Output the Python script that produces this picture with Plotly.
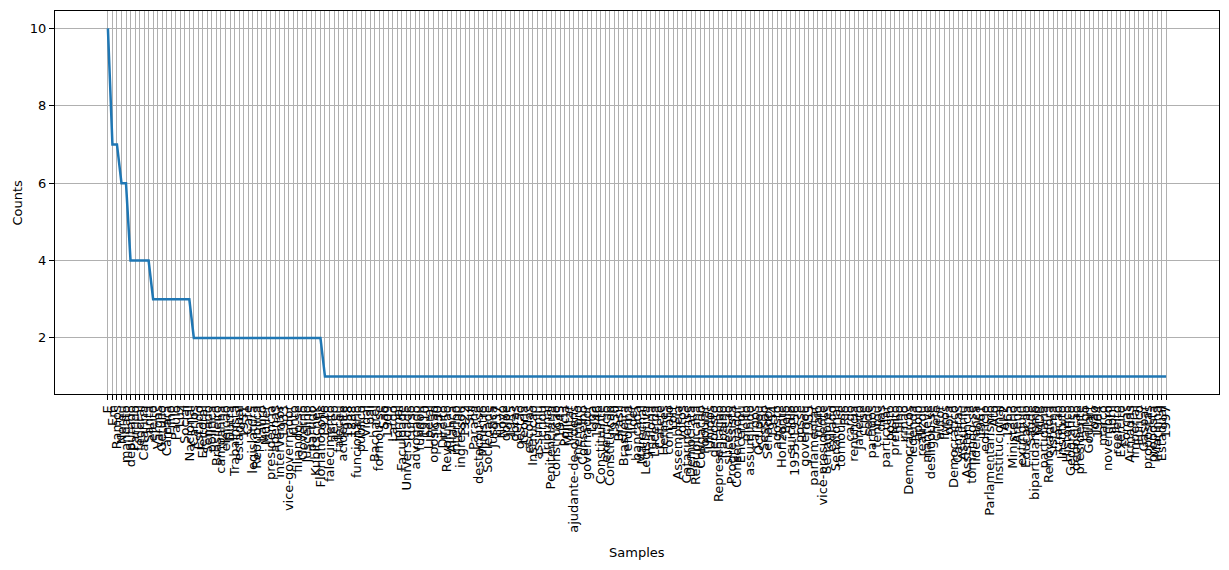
import plotly.graph_objects as go

words = [
    "E", "Em", "Ramos", "Nereu", "mandato", "deputado", "Partido", "federal", "Catarina", "Santa",
    "eleito", "Vargas", "Getúlio", "Câmara", "Filho", "Paulo", "Luz", "Social", "Nacional", "Carlos",
    "Estado", "Eleitoral", "Senado", "política", "Brasileiro", "campanha", "eleição", "Dutra", "Trabalhista", "estadual",
    "1951", "Café", "legislatura", "República", "Lauro", "Müller", "presidência", "apenas", "interventor", "1933",
    "vice-governador", "junto", "filiando-se", "Governo", "Juscelino", "partido", "Kubitschek", "Florianópolis", "1926", "falecimento",
    "aéreo", "faleceu", "acidente", "1958", "1888", "funcionário", "público", "Vidal", "pai", "Bacharel",
    "formou-se", "São", "1909", "Largo", "jornal", "Faculdade", "Universidade", "curso", "advogado", "fundou",
    "1910", "Liberal", "oposição", "1930", "Direito", "Revolução", "Aliança", "interino", "ingressou", "1922",
    "Sul", "Paraná", "destacou-se", "Ministro", "Sociedade", "Justiça", "1937", "Novo", "golpe", "1935",
    "obras", "gestão", "teoria", "escolas", "Instrução", "assumiu", "criou", "Tribunal", "Penitenciária", "construção",
    "1945", "Polícia", "Militar", "ajudante-de-ordens", "membro", "Conselho", "governador", "Liga", "1946", "Constituinte",
    "exercício", "Constituição", "1950", "Brasil", "Brasileira", "reforma", "líder", "bancada", "Marechal", "Legislativa",
    "maioria", "Lacerda", "Catete", "Hermes", "contato", "Lott", "Assembleia", "votos", "Catarinense", "Democrata",
    "Republicana", "Coligação", "Popular", "Unidos", "deposto", "Representação", "Trabalho", "sucessão", "Progressista", "Conservador",
    "Encerrou", "pleito", "assumindo", "cargos", "Ocupou", "Sessão", "Senador", "1954", "agosto", "Horizonte",
    "Belo", "suicídio", "1955-1956", "posse", "governou", "1955", "parlamentar", "maio", "vice-presidente", "Senadores",
    "exilado", "Senatorial", "tornou-se", "Rio", "cargo", "renúncia", "Janeiro", "crise", "sede", "partidos",
    "tentou", "dias", "particular", "posto", "prefeito", "filho", "irmão", "Democráticos", "legenda", "apoio",
    "realizou", "manteve", "desligou-se", "chefe", "autor", "livros", "obra", "Democrático", "Câmaras", "Assumiu",
    "Assistência", "tornando-se", "liderança", "1961", "edifício", "Parlamentarismo", "Ato", "Institucional", "AI-2", "1965",
    "Ministério", "Arena", "extinguiu", "Educação", "Saúde", "bipartidarismo", "MDB", "partidária", "Renovadora", "sistema",
    "criação", "Instituto", "Histórico", "Geográfico", "deposição", "presidente", "Jango", "Goulart", "João", "1964",
    "março", "novembro", "abril", "reeleito", "Exército", "Forças", "Armadas", "Imperial", "Eurico", "Gaspar",
    "propostas", "proposta", "Marinha", "Estadual", "1997",
]

counts = [
    10, 7, 7, 6, 6, 4, 4, 4, 4, 4,
    3, 3, 3, 3, 3, 3, 3, 3, 3, 2,
    2, 2, 2, 2, 2, 2, 2, 2, 2, 2,
    2, 2, 2, 2, 2, 2, 2, 2, 2, 2,
    2, 2, 2, 2, 2, 2, 2, 2, 1, 1,
    1, 1, 1, 1, 1, 1, 1, 1, 1, 1,
    1, 1, 1, 1, 1, 1, 1, 1, 1, 1,
    1, 1, 1, 1, 1, 1, 1, 1, 1, 1,
    1, 1, 1, 1, 1, 1, 1, 1, 1, 1,
    1, 1, 1, 1, 1, 1, 1, 1, 1, 1,
    1, 1, 1, 1, 1, 1, 1, 1, 1, 1,
    1, 1, 1, 1, 1, 1, 1, 1, 1, 1,
    1, 1, 1, 1, 1, 1, 1, 1, 1, 1,
    1, 1, 1, 1, 1, 1, 1, 1, 1, 1,
    1, 1, 1, 1, 1, 1, 1, 1, 1, 1,
    1, 1, 1, 1, 1, 1, 1, 1, 1, 1,
    1, 1, 1, 1, 1, 1, 1, 1, 1, 1,
    1, 1, 1, 1, 1, 1, 1, 1, 1, 1,
    1, 1, 1, 1, 1, 1, 1, 1, 1, 1,
    1, 1, 1, 1, 1, 1, 1, 1, 1, 1,
    1, 1, 1, 1, 1, 1, 1, 1, 1, 1,
    1, 1, 1, 1, 1, 1, 1, 1, 1, 1,
    1, 1, 1, 1, 1, 1, 1, 1, 1, 1,
    1, 1, 1, 1, 1,
]

y_ticks = [2, 4, 6, 8, 10]

n = len(words)
assert len(counts) == n, (len(counts), n)
idx = list(range(n))

fig = go.Figure(
    go.Scatter(x=idx, y=counts, mode="lines",
               line=dict(color="#1f77b4", width=2.5), hoverinfo="skip")
)

# page body has an 8px default margin; compensate so the plot frame sits at
# x 55..1219 and y 11..394 of the 1229x570 window
OFF = 8
W, H = 1229 - OFF, 570 - OFF
L, R, T, B = 55 - OFF, 10, 11 - OFF, 176
plot_h = H - T - B
plot_w = W - L - R

fig.update_layout(
    width=W, height=H,
    margin=dict(l=L, r=R, t=T, b=B, autoexpand=False),
    paper_bgcolor="white", plot_bgcolor="white",
    font=dict(family="DejaVu Sans", size=13, color="black"),
    showlegend=False,
)

fig.update_xaxes(
    tickmode="array", tickvals=idx, ticktext=words, tickangle=-90,
    range=[-0.05 * (n - 1), 1.05 * (n - 1)],
    showgrid=True, gridcolor="#b0b0b0", gridwidth=0.8,
    showline=True, linecolor="black", linewidth=1, mirror=True,
    ticks="outside", ticklen=5, tickcolor="black", tickwidth=1,
    zeroline=False, automargin=False,
    tickfont=dict(family="DejaVu Sans", size=13, color="black"),
)
fig.update_yaxes(
    tickmode="array", tickvals=y_ticks, ticktext=[str(v) for v in y_ticks],
    range=[0.55, 10.45],
    showgrid=True, gridcolor="#b0b0b0", gridwidth=0.8,
    showline=True, linecolor="black", linewidth=1, mirror=True,
    ticks="outside", ticklen=5, tickcolor="black", tickwidth=1,
    zeroline=False, automargin=False,
    tickfont=dict(family="DejaVu Sans", size=13, color="black"),
)

fig.add_annotation(text="Samples", xref="paper", yref="paper",
                   x=0.5, y=(H - B - (552 - OFF)) / plot_h, xanchor="center", yanchor="middle",
                   showarrow=False, font=dict(size=13))
fig.add_annotation(text="Counts", xref="paper", yref="paper",
                   x=(17 - 55) / plot_w, y=0.5, xanchor="center", yanchor="middle",
                   textangle=-90, showarrow=False, font=dict(size=13))

fig.write_html("out.html")
